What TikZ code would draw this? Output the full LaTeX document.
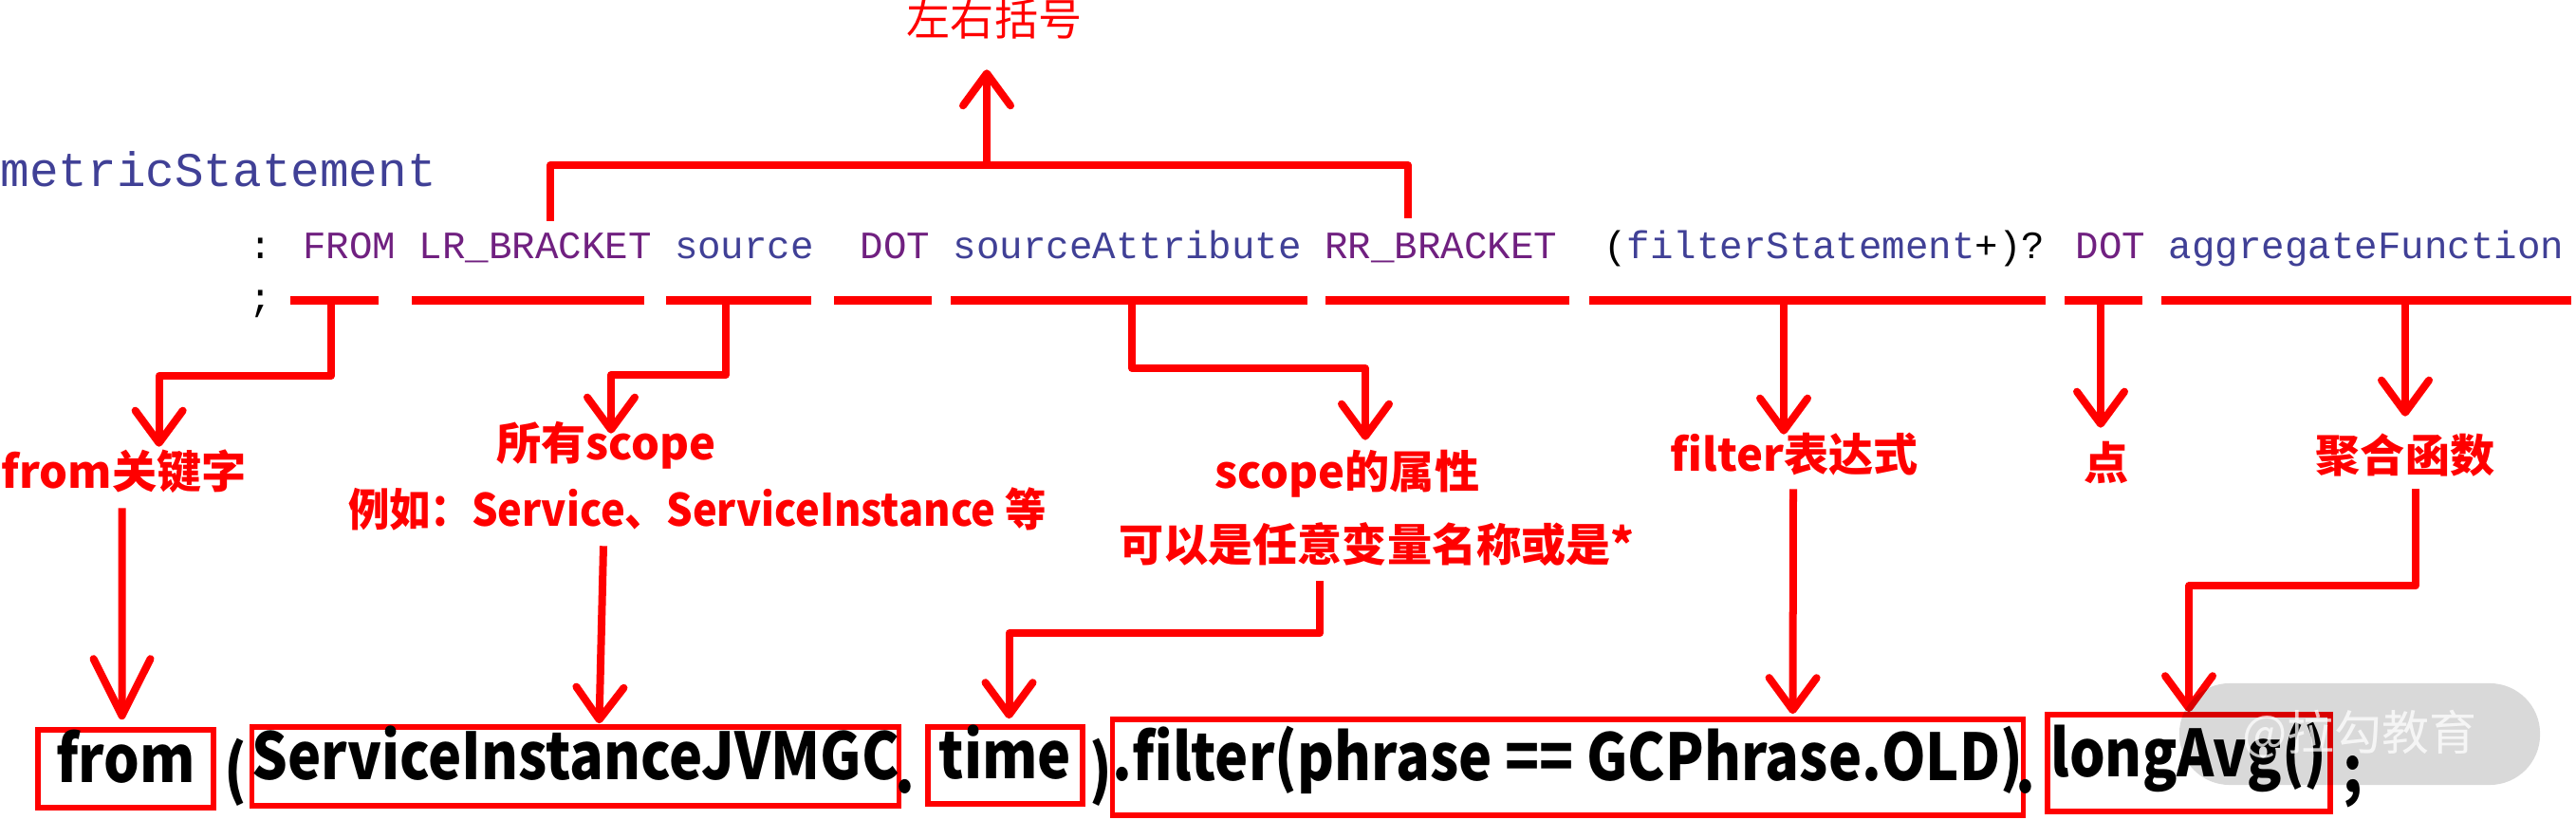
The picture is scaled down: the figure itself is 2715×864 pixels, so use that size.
\documentclass[tikz,border=0pt]{standalone}
\usepackage{fontspec}
\usetikzlibrary{arrows.meta,calc,positioning}
\setmainfont{Liberation Sans}
\newfontfamily\cjk{Noto Sans CJK SC}
\newfontfamily\cjkn{Noto Sans CJK SC}[FakeStretch=0.92]
\newfontfamily\cjkq{Noto Sans CJK SC}[FakeStretch=0.87]
\newfontfamily\code{Liberation Mono}
\definecolor{kwpurple}{RGB}{112,32,128}
\definecolor{idblue}{RGB}{64,64,150}
\definecolor{lgred}{RGB}{255,0,0}
\tikzset{
  >={Straight Barb[length=3.4mm,width=5mm,round]},
  rline/.style={draw=lgred,line width=0.8mm,line join=round},
  conn/.style={rline,->},
  connbig/.style={rline,-{Straight Barb[length=6mm,width=6mm,round]}},
  uline/.style={draw=lgred,line width=0.9mm},
  lbl/.style={text=lgred,font=\cjk\bfseries\fontsize{13.4}{16}\selectfont,
    inner sep=0pt,text height=0.88em,text depth=0.12em},
  codetxt/.style={font=\code\fontsize{11.6}{14}\selectfont,inner sep=0pt,
    anchor=base west},
  cbox/.style={draw=lgred,line width=0.55mm,inner sep=0pt,
    font=\cjkq\bfseries\fontsize{19.4}{22}\selectfont,
    text height=0.9em,text depth=0.1em},
  cchar/.style={font=\cjkq\bfseries\fontsize{19.4}{22}\selectfont,
    inner sep=0pt,anchor=base},
  wmark/.style={fill=black,fill opacity=0.15,text=white,text opacity=0.75,
    rounded corners=5.3mm,minimum width=3.8cm,minimum height=1.07cm,
    font=\cjk\fontsize{14.2}{16}\selectfont},
}

\begin{document}
\begin{tikzpicture}[x=0.01cm,y=-0.01cm]
  \useasboundingbox (0,0) rectangle (2715,864);

  % grammar rule
  \node[codetxt,font=\code\fontsize{14.5}{17}\selectfont,text=idblue] (rule)
    at (0,197) {metricStatement};
  \node[codetxt] (stmt) at (261.5,273) {: \textcolor{kwpurple}{FROM}
    \textcolor{kwpurple}{LR\_BRACKET} \textcolor{idblue}{source}\ \
    \textcolor{kwpurple}{DOT} \textcolor{idblue}{sourceAttribute}
    \textcolor{kwpurple}{RR\_BRACKET}\ \ (\textcolor{idblue}{filterStatement}+)?
    \textcolor{kwpurple}{DOT} \textcolor{idblue}{aggregateFunction}};
  \node[codetxt] (semi) at (261.5,328) {;};

  \foreach \a/\b in {306/399,434/679,702/855,879/982,1002/1378,1397/1654,
      1675/2156,2176/2258,2278/2710}
    \draw[uline] (\a,317) -- (\b,317);
  \coordinate (uFrom) at (349,317);
  \coordinate (uSrc) at (765,317);
  \coordinate (uAttr) at (1193,317);
  \coordinate (uFilt) at (1880,317);
  \coordinate (uDot) at (2214,317);
  \coordinate (uAgg) at (2535,317);

  % labels
  \node[lbl,font=\cjk\fontsize{13.1}{16}\selectfont] (lBracket) at (1048,24) {左右括号};
  \node[lbl,anchor=west] (lFrom) at (1,501) {from关键字};
  \node[lbl] (lScope) at (639,471) {所有scope};
  \node[lbl,font=\cjkn\bfseries\fontsize{13.4}{16}\selectfont] (lScopeEg) at (735,541) {例如：Service、ServiceInstance 等};
  \node[lbl] (lAttr) at (1420,501) {scope的属性};
  \node[lbl] (lAttrEg) at (1451,578) {可以是任意变量名称或是*};
  \node[lbl] (lFilter) at (1891,483) {filter表达式};
  \node[lbl] (lDot) at (2220,492) {点};
  \node[lbl] (lAgg) at (2535,484) {聚合函数};

  % the query
  \node[cbox,minimum width=1.85cm,minimum height=0.82cm] (bFrom) at (132.5,810) {from};
  \node[cchar] (pOpen) at (248,835) {(};
  \node[cbox,minimum width=6.53cm,minimum height=0.83cm] (bSvc) at (606.5,807.5) {ServiceInstanceJVMGC};
  \node[cchar] (pDot1) at (954,835) {.};
  \node[cbox,minimum width=1.63cm,minimum height=0.81cm] (bTime) at (1059.5,806.5) {time};
  \node[cchar] (pClose) at (1160,835) {)};
  \node[cbox,minimum width=9.19cm,minimum height=1.01cm] (bFilter) at (1652.5,808.5) {.filter(phrase == GCPhrase.OLD)};
  \node[cchar] (pDot2) at (2135,835) {.};
  \node[cbox,minimum width=2.98cm,minimum height=1.02cm] (bAvg) at (2307,804) {longAvg()};
  \node[cchar] (pSemi) at (2480,835) {;};

  % bracket and connectors
  \draw[rline] (580,233) -- (580,174) -- (1484,174) -- (1484,230);
  \coordinate (bMid) at (1040,174);
  \draw[conn] (bMid) -- ($(lBracket.south)+(-8,31)$);
  \draw[conn] (uFrom) -- ++(0,79) -| ($(lFrom.north)+(37,-12)$);
  \draw[connbig] ($(lFrom.south)+(-2,16)$) -- ($(bFrom.north)+(-4,-8)$);
  \draw[conn] (uSrc) -- ++(0,78) -| ($(lScope.north)+(5,4)$);
  \draw[conn] ($(lScopeEg.south)+(-99,16)$) -- ($(bSvc.north)+(25,-1)$);
  \draw[conn] (uAttr) -- ++(0,71) -| ($(lAttr.north)+(19,-19)$);
  \draw[conn] ($(lAttrEg.south)+(-60,16)$) -- ++(0,55) -| ($(bTime.north)+(4,-6)$);
  \draw[conn] (uFilt) -- ($(lFilter.north)+(-11,-7)$);
  \draw[conn] ($(lFilter.south)+(-1,14)$) -- ($(bFilter.north)+(237,-3)$);
  \draw[conn] (uDot) -- ($(lDot.north)+(-6,-23)$);
  \draw[conn] (uAgg) -- ($(lAgg.north)+(0,-27)$);
  \draw[conn] ($(lAgg.south)+(11,13)$) -- ++(0,102) -| (bAvg.north);

  \node[wmark] (wm) at (2487,773.5) {@拉勾教育};
\end{tikzpicture}
\end{document}
